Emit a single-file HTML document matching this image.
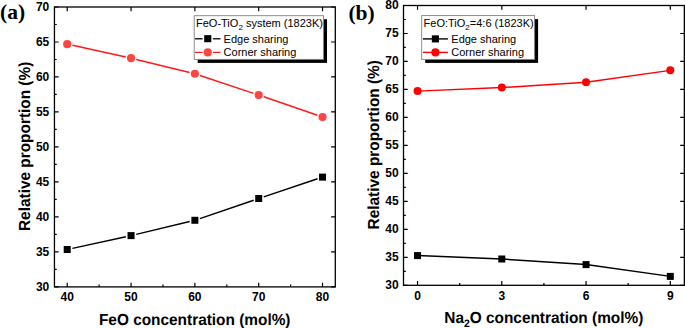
<!DOCTYPE html><html><head><meta charset="utf-8"><style>
html,body{margin:0;padding:0;background:#fff;width:685px;height:328px;overflow:hidden}
svg{display:block}
text{font-family:"Liberation Sans", sans-serif}
.tl{font-size:12px;font-weight:bold;fill:#000}
.at{font-size:15.4px;font-weight:bold;fill:#000;text-rendering:geometricPrecision}
.lg{font-size:11px;fill:#000}
.pl{font-family:"Liberation Serif", serif;font-size:21.5px;font-weight:bold;fill:#000}
</style></head><body>
<svg width="685" height="328" viewBox="0 0 685 328">
<rect width="685" height="328" fill="#fff"/>
<rect x="54.45" y="7.0" width="280.85" height="279.90" fill="none" stroke="#000" stroke-width="1.3"/>
<path d="M67.22 286.90V282.70M67.22 7.00V11.20M131.05 286.90V282.70M131.05 7.00V11.20M194.88 286.90V282.70M194.88 7.00V11.20M258.70 286.90V282.70M258.70 7.00V11.20M322.53 286.90V282.70M322.53 7.00V11.20M99.13 286.90V284.60M162.96 286.90V284.60M226.79 286.90V284.60M290.62 286.90V284.60M54.45 286.90H58.65M335.30 286.90H331.10M54.45 251.91H58.65M335.30 251.91H331.10M54.45 216.92H58.65M335.30 216.92H331.10M54.45 181.94H58.65M335.30 181.94H331.10M54.45 146.95H58.65M335.30 146.95H331.10M54.45 111.96H58.65M335.30 111.96H331.10M54.45 76.97H58.65M335.30 76.97H331.10M54.45 41.99H58.65M335.30 41.99H331.10M54.45 7.00H58.65M335.30 7.00H331.10M54.45 269.41H56.75M54.45 234.42H56.75M54.45 199.43H56.75M54.45 164.44H56.75M54.45 129.46H56.75M54.45 94.47H56.75M54.45 59.48H56.75M54.45 24.49H56.75" stroke="#000" stroke-width="1.2" fill="none"/>
<text x="49.3" y="291.20" text-anchor="end" class="tl">30</text>
<text x="49.3" y="256.21" text-anchor="end" class="tl">35</text>
<text x="49.3" y="221.22" text-anchor="end" class="tl">40</text>
<text x="49.3" y="186.24" text-anchor="end" class="tl">45</text>
<text x="49.3" y="151.25" text-anchor="end" class="tl">50</text>
<text x="49.3" y="116.26" text-anchor="end" class="tl">55</text>
<text x="49.3" y="81.27" text-anchor="end" class="tl">60</text>
<text x="49.3" y="46.29" text-anchor="end" class="tl">65</text>
<text x="49.3" y="11.30" text-anchor="end" class="tl">70</text>
<text x="67.22" y="301.40" text-anchor="middle" class="tl">40</text>
<text x="131.05" y="301.40" text-anchor="middle" class="tl">50</text>
<text x="194.88" y="301.40" text-anchor="middle" class="tl">60</text>
<text x="258.70" y="301.40" text-anchor="middle" class="tl">70</text>
<text x="322.53" y="301.40" text-anchor="middle" class="tl">80</text>
<path d="M72.39 248.37L125.87 236.74M136.20 234.37L189.72 221.52M199.89 218.57L253.69 200.23M263.73 196.84L317.51 178.79" stroke="#000" stroke-width="1.45" fill="none"/>
<rect x="63.72" y="246.00" width="7" height="7" fill="#000"/>
<rect x="127.55" y="232.11" width="7" height="7" fill="#000"/>
<rect x="191.38" y="216.78" width="7" height="7" fill="#000"/>
<rect x="255.20" y="195.02" width="7" height="7" fill="#000"/>
<rect x="319.03" y="173.61" width="7" height="7" fill="#000"/>
<path d="M72.49 45.31L125.77 57.00M136.29 59.43L189.63 72.47M200.00 75.46L253.58 93.32M263.81 96.79L317.43 115.31" stroke="#ff1a1a" stroke-width="1.45" fill="none"/>
<circle cx="67.22" cy="44.16" r="4.1" fill="#fd4644"/>
<circle cx="131.05" cy="58.15" r="4.1" fill="#fd4644"/>
<circle cx="194.88" cy="73.76" r="4.1" fill="#fd4644"/>
<circle cx="258.70" cy="95.03" r="4.1" fill="#fd4644"/>
<circle cx="322.53" cy="117.07" r="4.1" fill="#fd4644"/>
<rect x="403.5" y="5.5" width="280.85" height="279.80" fill="none" stroke="#000" stroke-width="1.3"/>
<path d="M417.54 285.30V281.10M417.54 5.50V9.70M501.80 285.30V281.10M501.80 5.50V9.70M586.05 285.30V281.10M586.05 5.50V9.70M670.31 285.30V281.10M670.31 5.50V9.70M459.67 285.30V283.00M543.92 285.30V283.00M628.18 285.30V283.00M403.50 285.30H407.70M684.35 285.30H680.15M403.50 257.32H407.70M684.35 257.32H680.15M403.50 229.34H407.70M684.35 229.34H680.15M403.50 201.36H407.70M684.35 201.36H680.15M403.50 173.38H407.70M684.35 173.38H680.15M403.50 145.40H407.70M684.35 145.40H680.15M403.50 117.42H407.70M684.35 117.42H680.15M403.50 89.44H407.70M684.35 89.44H680.15M403.50 61.46H407.70M684.35 61.46H680.15M403.50 33.48H407.70M684.35 33.48H680.15M403.50 5.50H407.70M684.35 5.50H680.15M403.50 271.31H405.80M403.50 243.33H405.80M403.50 215.35H405.80M403.50 187.37H405.80M403.50 159.39H405.80M403.50 131.41H405.80M403.50 103.43H405.80M403.50 75.45H405.80M403.50 47.47H405.80M403.50 19.49H405.80" stroke="#000" stroke-width="1.2" fill="none"/>
<text x="398.6" y="288.90" text-anchor="end" class="tl">30</text>
<text x="398.6" y="260.92" text-anchor="end" class="tl">35</text>
<text x="398.6" y="232.94" text-anchor="end" class="tl">40</text>
<text x="398.6" y="204.96" text-anchor="end" class="tl">45</text>
<text x="398.6" y="176.98" text-anchor="end" class="tl">50</text>
<text x="398.6" y="149.00" text-anchor="end" class="tl">55</text>
<text x="398.6" y="121.02" text-anchor="end" class="tl">60</text>
<text x="398.6" y="93.04" text-anchor="end" class="tl">65</text>
<text x="398.6" y="65.06" text-anchor="end" class="tl">70</text>
<text x="398.6" y="37.08" text-anchor="end" class="tl">75</text>
<text x="398.6" y="9.10" text-anchor="end" class="tl">80</text>
<text x="417.54" y="300.10" text-anchor="middle" class="tl">0</text>
<text x="501.80" y="300.10" text-anchor="middle" class="tl">3</text>
<text x="586.05" y="300.10" text-anchor="middle" class="tl">6</text>
<text x="670.31" y="300.10" text-anchor="middle" class="tl">9</text>
<polyline points="417.54,255.59 501.80,259.00 586.05,264.59 670.31,276.40" stroke="#000" stroke-width="1.45" fill="none"/>
<rect x="414.04" y="252.09" width="7" height="7" fill="#000"/>
<rect x="498.30" y="255.50" width="7" height="7" fill="#000"/>
<rect x="582.55" y="261.09" width="7" height="7" fill="#000"/>
<rect x="666.81" y="272.90" width="7" height="7" fill="#000"/>
<polyline points="417.54,91.12 501.80,87.59 586.05,82.17 670.31,70.36" stroke="#ff0000" stroke-width="1.45" fill="none"/>
<circle cx="417.54" cy="91.12" r="4.0" fill="#ff0000"/>
<circle cx="501.80" cy="87.59" r="4.0" fill="#ff0000"/>
<circle cx="586.05" cy="82.17" r="4.0" fill="#ff0000"/>
<circle cx="670.31" cy="70.36" r="4.0" fill="#ff0000"/>
<rect x="197.70" y="19.20" width="129.30" height="43.70" fill="#000"/>
<rect x="194.20" y="15.70" width="129.30" height="43.70" fill="#fff" stroke="#808080" stroke-width="0.9"/>
<text x="196.0" y="27.0" class="lg">FeO-TiO<tspan font-size="8px" dy="2.5">2</tspan><tspan dy="-2.5"> system (1823K)</tspan></text>
<path d="M195 38.7H202.6M212.9 38.7H220.5" stroke="#222" stroke-width="1.4"/>
<rect x="204.20" y="35.15" width="7.1" height="7.1" fill="#000"/>
<text x="223.6" y="42.7" class="lg">Edge sharing</text>
<path d="M195 52.4H202.6M212.9 52.4H220.5" stroke="#ff1a1a" stroke-width="1.4"/>
<circle cx="207.75" cy="52.40" r="4.05" fill="#fd4644"/>
<text x="223.6" y="55.8" class="lg">Corner sharing</text>
<rect x="425.20" y="19.10" width="112.90" height="43.80" fill="#000"/>
<rect x="421.70" y="15.60" width="112.90" height="43.80" fill="#fff" stroke="#808080" stroke-width="0.9"/>
<text x="423.6" y="27.2" class="lg">FeO:TiO<tspan font-size="8px" dy="2.5">2</tspan><tspan dy="-2.5">=4:6 (1823K)</tspan></text>
<path d="M422.9 38.9H447.9" stroke="#000" stroke-width="1.4"/>
<rect x="431.85" y="35.35" width="7.1" height="7.1" fill="#000"/>
<text x="451.3" y="42.9" class="lg">Edge sharing</text>
<path d="M422.9 52.4H447.9" stroke="#ff0000" stroke-width="1.4"/>
<circle cx="435.40" cy="52.40" r="4.05" fill="#ff0000"/>
<text x="451.3" y="55.9" class="lg">Corner sharing</text>
<text transform="translate(194.7,324.9) scale(1,1.04)" text-anchor="middle" class="at">FeO concentration (mol%)</text>
<text transform="translate(543.8,323.0) scale(1,1.04)" text-anchor="middle" class="at">Na<tspan font-size="10.4px" dy="3.7">2</tspan><tspan dy="-3.7">O concentration (mol%)</tspan></text>
<text transform="translate(30.0,146.35) rotate(-90) scale(1,1.04)" text-anchor="middle" class="at">Relative proportion (%)</text>
<text transform="translate(379.0,144.75) rotate(-90) scale(1,1.04)" text-anchor="middle" class="at">Relative proportion (%)</text>
<text x="0" y="19.0" class="pl">(a)</text>
<text x="348.4" y="19.9" class="pl">(b)</text>
</svg></body></html>
